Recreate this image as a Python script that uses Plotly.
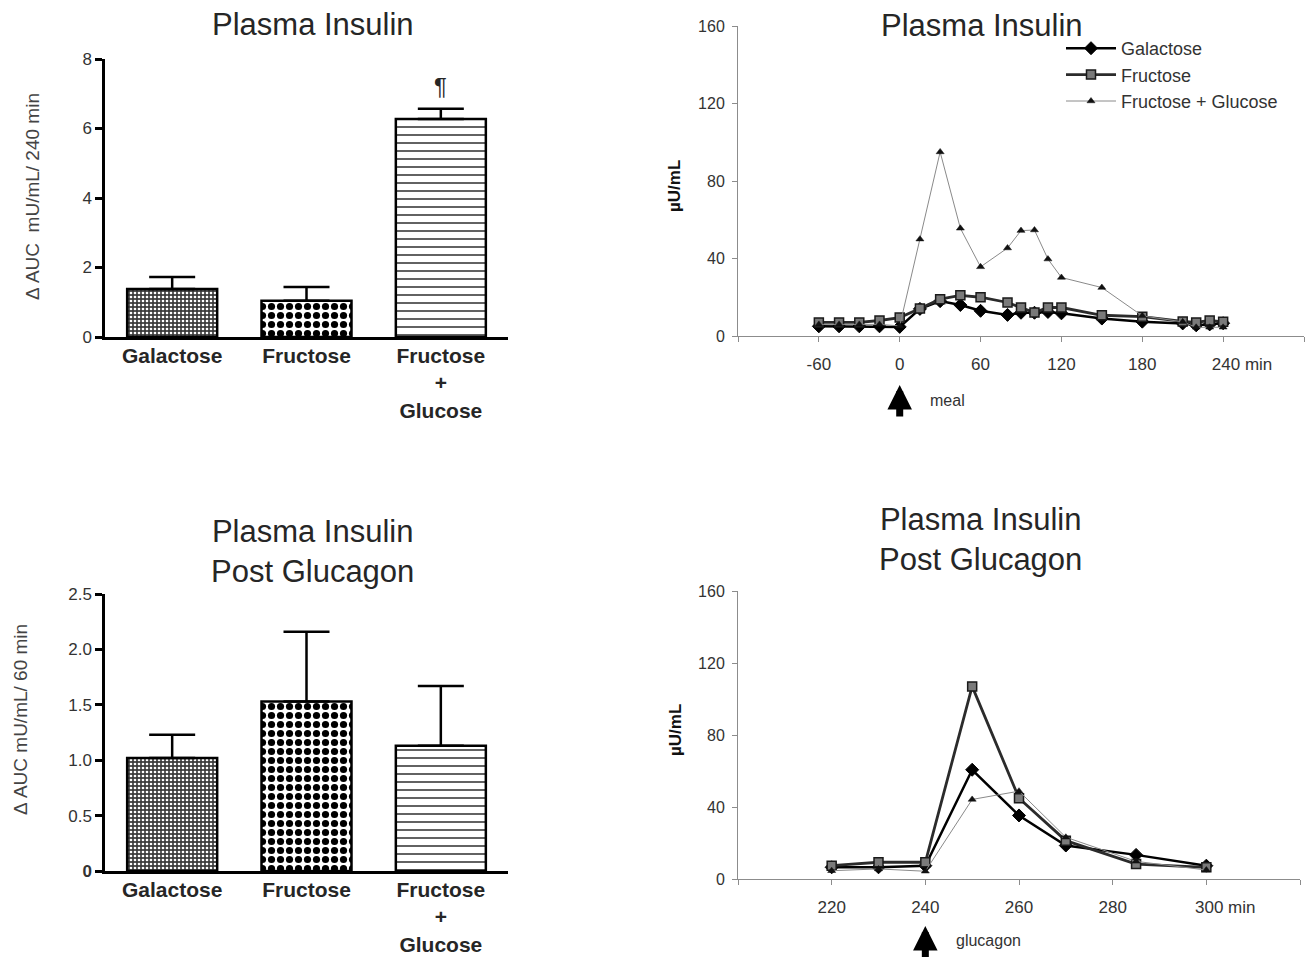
import plotly.graph_objects as go

# ---------------- data ----------------
categories = ["Galactose", "Fructose", "Fructose<br>+<br>Glucose"]
auc240 = [1.38, 1.04, 6.27]
auc240_err = [0.35, 0.40, 0.30]
auc60 = [1.02, 1.53, 1.13]
auc60_err = [0.21, 0.63, 0.54]

meal_times = [-60, -45, -30, -15, 0, 15, 30, 45, 60, 80, 90, 100, 110, 120, 150, 180, 210, 220, 230, 240]
meal_galactose = [5, 5, 5, 5, 4.7, 14, 18, 16, 13, 10.9, 12, 12, 12.4, 11.7, 9, 7.4, 6.5, 5.5, 6, 6.6]
meal_fructose = [7, 7, 7, 8, 9.5, 14.2, 19, 21, 20, 17.3, 14.7, 12.1, 14.7, 14.7, 10.7, 10, 7.5, 7, 8, 7.3]
meal_fruc_gluc = [6, 6, 6, 6, 5.2, 50, 95, 55.6, 35.7, 45.4, 54.4, 54.7, 39.7, 30.2, 25, 10.4, 7.3, 4.5, 4.5, 4.5]

glucagon_times = [220, 230, 240, 250, 260, 270, 285, 300]
glucagon_galactose = [6.5, 6.5, 7.4, 60.7, 35.3, 18.6, 13.4, 7.4]
glucagon_fructose = [7.4, 9.3, 9.3, 107, 44.9, 21.3, 8.3, 6.5]
glucagon_fruc_gluc = [4.6, 5.6, 4.3, 44.2, 48.8, 23.2, 9.8, 5.0]

series_names = ["Galactose", "Fructose", "Fructose + Glucose"]

# ---------------- styles ----------------
FONT = "Liberation Sans, Arial, sans-serif"
TXT = "#262626"
W, H = 1313, 957
OFF = 8  # page body margin


def px(x):
    return (x - OFF) / W


def py(y):
    return 1 - (y - OFF) / H


patterns = [
    dict(shape=".", bgcolor="#3c3c3c", fgcolor="white", size=4, solidity=0.35, fillmode="replace"),
    dict(shape=".", bgcolor="white", fgcolor="black", size=9, solidity=0.5, fillmode="replace"),
    dict(shape="-", bgcolor="white", fgcolor="#3a3a3a", size=8, solidity=0.2, fillmode="replace"),
]

line_styles = [
    dict(line=dict(color="black", width=2.5),
         marker=dict(symbol="diamond", size=10, color="black", line=dict(color="black", width=1))),
    dict(line=dict(color="#2b2b2b", width=2.8),
         marker=dict(symbol="square", size=9, color="#7a7a7a", line=dict(color="#1a1a1a", width=1.5))),
    dict(line=dict(color="#8a8a8a", width=1),
         marker=dict(symbol="triangle-up", size=7, color="#111111", line=dict(color="#111111", width=0.5))),
]

fig = go.Figure()

# ---------------- bar charts ----------------
for vals, errs, xa, ya in [(auc240, auc240_err, "x", "y"), (auc60, auc60_err, "x3", "y3")]:
    for i, cat in enumerate(categories):
        fig.add_trace(go.Bar(
            x=[cat], y=[vals[i]], xaxis=xa, yaxis=ya, width=0.67,
            marker=dict(color="white", pattern=patterns[i], line=dict(color="black", width=2.5)),
            error_y=dict(type="data", array=[errs[i]], arrayminus=[0], symmetric=False,
                         color="black", thickness=2.5, width=23),
            showlegend=False,
        ))

# ---------------- line charts ----------------
meal_series = [meal_galactose, meal_fructose, meal_fruc_gluc]
glucagon_series = [glucagon_galactose, glucagon_fructose, glucagon_fruc_gluc]
for i in range(3):
    fig.add_trace(go.Scatter(
        x=meal_times, y=meal_series[i], mode="lines+markers", name=series_names[i],
        xaxis="x2", yaxis="y2", showlegend=True, **line_styles[i]))
for i in range(3):
    fig.add_trace(go.Scatter(
        x=glucagon_times, y=glucagon_series[i], mode="lines+markers", name=series_names[i],
        xaxis="x4", yaxis="y4", showlegend=False, **line_styles[i]))

# ---------------- axes ----------------
bar_x = dict(type="category", range=[-0.5, 2.5], showline=True, linecolor="black", linewidth=2.5,
             ticks="", showgrid=False, zeroline=False, ticklabelstandoff=-2, automargin=False,
             tickfont=dict(family=FONT, size=21, color=TXT, weight=700))
bar_y = dict(showline=True, linecolor="black", linewidth=2.5, ticks="outside", ticklen=7,
             tickwidth=2.5, tickcolor="black", showgrid=False, zeroline=False, automargin=False,
             tickfont=dict(family=FONT, size=17, color="#333333"))
line_x = dict(showline=True, linecolor="#8c8c8c", linewidth=1, ticks="outside", ticklen=5,
              tickcolor="#8c8c8c", showgrid=False, zeroline=False, ticklabelstandoff=8,
              automargin=False, tickfont=dict(family=FONT, size=17, color="#333333"))
line_y = dict(showline=True, linecolor="#8c8c8c", linewidth=1, ticks="outside", ticklen=5,
              tickcolor="#8c8c8c", showgrid=False, zeroline=False, range=[0, 160],
              tickvals=[0, 40, 80, 120, 160], automargin=False, ticklabelstandoff=4,
              tickfont=dict(family=FONT, size=16, color="#333333"))

NB = "\u00a0" * 8
fig.update_layout(
    xaxis=dict(domain=[px(105), px(508)], anchor="y", **bar_x),
    yaxis=dict(domain=[py(337), py(59)], anchor="x", range=[0, 8], tickvals=[0, 2, 4, 6, 8], **bar_y),
    xaxis3=dict(domain=[px(105), px(508)], anchor="y3", **bar_x),
    yaxis3=dict(domain=[py(871), py(594)], anchor="x3", range=[0, 2.5],
                tickvals=[0, 0.5, 1.0, 1.5, 2.0, 2.5],
                ticktext=["<b>0</b>", "0.5", "1.0", "1.5", "2.0", "2.5"], **bar_y),
    xaxis2=dict(domain=[px(738), px(1304)], anchor="y2", range=[-120, 300],
                tickvals=[-120, -60, 0, 60, 120, 180, 240, 300],
                ticktext=["", "-60", "0", "60", "120", "180", NB + "240 min", ""], **line_x),
    yaxis2=dict(domain=[py(336), py(26)], anchor="x2", **line_y),
    xaxis4=dict(domain=[px(738), px(1300)], anchor="y4", range=[200, 320],
                tickvals=[200, 220, 240, 260, 280, 300, 320],
                ticktext=["", "220", "240", "260", "280", NB + "300 min", ""], **line_x),
    yaxis4=dict(domain=[py(879), py(591)], anchor="x4", **line_y),
    width=W, height=H,
    margin=dict(l=0, r=0, t=0, b=0, autoexpand=False),
    paper_bgcolor="white", plot_bgcolor="white",
    font=dict(family=FONT, color=TXT),
    legend=dict(x=px(1061), y=py(30), xanchor="left", yanchor="top", bgcolor="rgba(0,0,0,0)",
                font=dict(family=FONT, size=18, color="#333333"), tracegroupgap=0,
                itemwidth=50),
)

ann = []


def title(text, x, y, size=31):
    ann.append(dict(text=text, x=px(x), y=py(y), xref="paper", yref="paper", showarrow=False,
                    xanchor="center", yanchor="middle",
                    font=dict(family=FONT, size=size, color=TXT)))


title("Plasma Insulin", 313, 24)
title("Plasma Insulin", 982, 25)
title("Plasma Insulin<br>Post Glucagon", 312, 551)
title("Plasma Insulin<br>Post Glucagon", 980, 539)


def ytitle(text, x, y, size, bold=False, color="#444444"):
    ann.append(dict(text=text, x=px(x), y=py(y), xref="paper", yref="paper", showarrow=False,
                    textangle=-90, xanchor="center", yanchor="middle",
                    font=dict(family=FONT, size=size, color=color, weight=700 if bold else 400)))


ytitle("\u0394 AUC\u00a0 mU/mL/ 240 min", 32, 197, 19)
ytitle("\u0394 AUC mU/mL/ 60 min", 20, 720, 19)
ytitle("\u00b5U/mL", 675, 186, 17, bold=True, color="#111111")
ytitle("\u00b5U/mL", 675, 730, 17, bold=True, color="#111111")

# significance mark
ann.append(dict(text="\u00b6", x=categories[2], y=7.2, xref="x", yref="y", showarrow=False,
                xanchor="center", yanchor="middle", font=dict(family=FONT, size=24, color=TXT)))

# arrows for meal / glucagon
ann.append(dict(text="", x=0, y=py(385), xref="x2", yref="paper", showarrow=True,
                ax=0, ay=33, arrowhead=2, arrowsize=0.7, arrowwidth=7, arrowcolor="black"))
ann.append(dict(text="meal", x=px(947), y=py(400), xref="paper", yref="paper",
                xanchor="center", yanchor="middle",
                showarrow=False, font=dict(family=FONT, size=16, color="#333333")))
ann.append(dict(text="", x=240, y=py(926), xref="x4", yref="paper", showarrow=True,
                ax=0, ay=34, arrowhead=2, arrowsize=0.7, arrowwidth=7, arrowcolor="black"))
ann.append(dict(text="glucagon", x=px(988), y=py(940), xref="paper", yref="paper",
                xanchor="center", yanchor="middle",
                showarrow=False, font=dict(family=FONT, size=16, color="#333333")))

fig.update_layout(annotations=ann)

fig.write_html("out.html")
